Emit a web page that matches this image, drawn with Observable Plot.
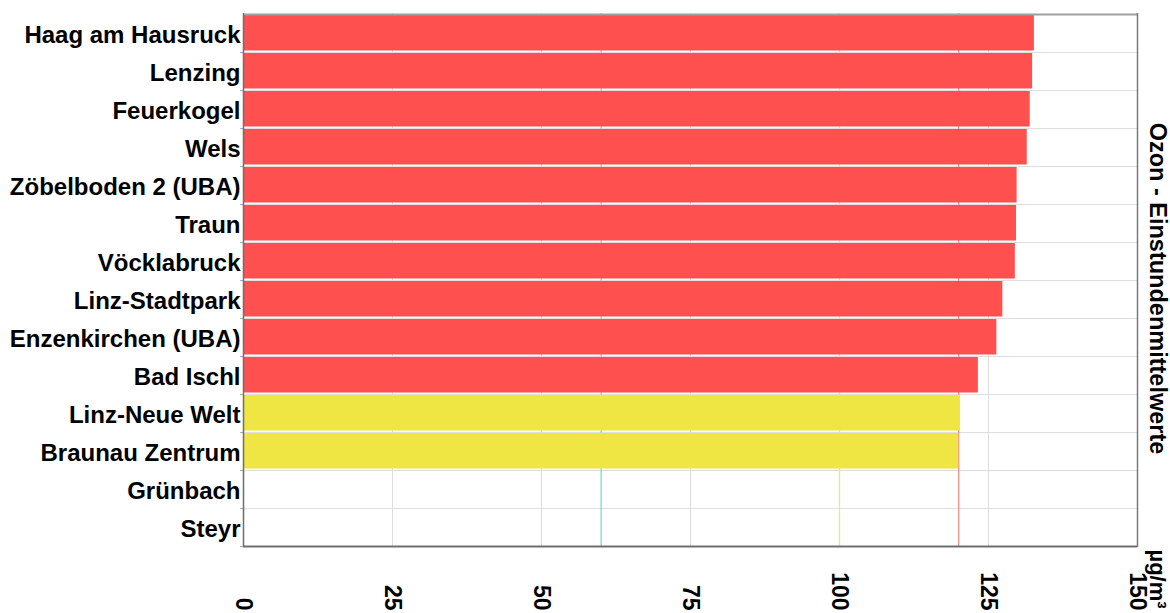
<!DOCTYPE html>
<html><head><meta charset="utf-8">
<script src="https://cdn.jsdelivr.net/npm/d3@7"></script>
<script src="https://cdn.jsdelivr.net/npm/@observablehq/plot@0.6"></script>
<style>html,body{margin:0;padding:0;background:#fff} svg{display:block}</style>
</head><body><div id="chart"></div>
<script>
const stations = ["Haag am Hausruck","Lenzing","Feuerkogel","Wels","Zöbelboden 2 (UBA)","Traun","Vöcklabruck","Linz-Stadtpark","Enzenkirchen (UBA)","Bad Ischl","Linz-Neue Welt","Braunau Zentrum","Grünbach","Steyr"];
const values = [132.7,132.4,132.0,131.5,129.8,129.7,129.5,127.4,126.4,123.3,120.3,120.0,null,null];
const xTicks = [0,25,50,75,100,125,150];
const gridTicks = [25,50,75,100,125];
const limitValues = [60,100,120];
const limitColors = ["#7fdcc8","#efe48a","#f29090"];
const yLabel = "Ozon - Einstundenmittelwerte";
const unitLabel = "µg/m³";

const width = 1170, height = 613, mt = 13, mb = 66, ml = 243, mr = 33;
const half = (height - mt - mb) / stations.length / 2;
const data = stations.map((s, i) => ({station: s, value: values[i]})).filter(d => d.value != null);
const barColor = v => Math.round(v) > 120 ? "#ff5050" : "#efe543";
const font = "'Liberation Sans', Arial, sans-serif";

const chart = Plot.plot({
  width, height, marginTop: mt, marginBottom: mb, marginLeft: ml, marginRight: mr,
  style: {fontFamily: font, fontSize: "24px", fontWeight: "bold", color: "#000", background: "#fff", overflow: "visible"},
  x: {domain: [0, 150], axis: null},
  y: {domain: stations, padding: 0},
  color: {type: "identity"},
  marks: [
    Plot.ruleX(gridTicks, {stroke: "#dddddd", strokeWidth: 1}),
    Plot.ruleY(stations, {y: d => d, dy: half, stroke: "#dddddd", strokeWidth: 1}),
    ...limitValues.map((v, i) => Plot.ruleX([v], {stroke: limitColors[i], strokeWidth: 1.3})),
    Plot.barX(data, {x: "value", y: "station", fill: d => barColor(d.value), insetTop: 1, insetBottom: 1.5}),
    Plot.tickY(stations, {y: d => d, dy: half, dx: -3, insetRight: width - ml - mr - 3, stroke: "#aaaaaa"}),
    Plot.ruleY([stations[0]], {dy: -half, stroke: "#a0a0a0", strokeWidth: 2}),
    Plot.ruleY([stations[stations.length - 1]], {dy: half, stroke: "#6e6e6e", strokeWidth: 2}),
    Plot.ruleX([0], {stroke: "#6e6e6e", strokeWidth: 1.5}),
    Plot.ruleX([150], {stroke: "#7a7a7a", strokeWidth: 1.5}),
    Plot.axisY({tickSize: 0, tickPadding: 3, dy: 2, fontSize: 24, fontWeight: "bold", label: null}),
    Plot.text(xTicks, {x: d => d, text: d => String(d), frameAnchor: "bottom", rotate: 90, textAnchor: "end", lineAnchor: "middle", dy: 63, fontSize: 23, fontWeight: "bold", fill: "#000"}),
    Plot.text([yLabel], {text: d => d, frameAnchor: "right", rotate: 90, textAnchor: "middle", lineAnchor: "middle", dx: 20, dy: 8, fontSize: 23.5, fontWeight: "bold", fill: "#000"}),
    Plot.text([unitLabel], {text: d => d, frameAnchor: "bottom-right", rotate: 90, textAnchor: "start", lineAnchor: "middle", dx: 20, dy: 2, fontSize: 22, fontWeight: "bold", fill: "#000"})
  ]
});
document.getElementById("chart").append(chart);
</script>
</body></html>
